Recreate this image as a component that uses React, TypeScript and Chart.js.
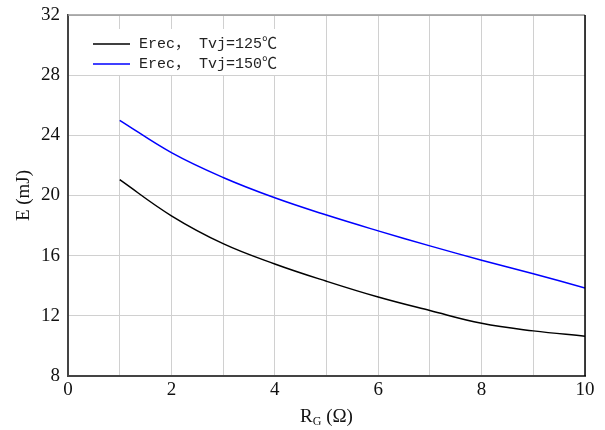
import React, { useEffect, useRef } from "react";
import { Chart, registerables } from "chart.js";
Chart.register(...registerables);

const rg = [1, 2, 3, 4, 5, 6, 7, 8, 9, 10];
const erec125 = [21.05, 18.65, 16.8, 15.45, 14.3, 13.25, 12.35, 11.5, 11.0, 10.65];
const erec150 = [25.0, 22.85, 21.2, 19.85, 18.7, 17.65, 16.65, 15.7, 14.8, 13.85];
const seriesLabels = ["Erec， Tvj=125℃", "Erec， Tvj=150℃"];
const seriesColors = ["#000000", "#0000ff"];

const frame = {
  id: "frame",
  afterDraw(chart: any) {
    const { ctx, chartArea: a } = chart;
    ctx.save();
    ctx.strokeStyle = "#999999";
    ctx.lineWidth = 1.5;
    ctx.beginPath();
    ctx.moveTo(a.left, a.top);
    ctx.lineTo(a.right, a.top);
    ctx.stroke();
    ctx.strokeStyle = "#000000";
    ctx.lineWidth = 1.5;
    ctx.beginPath();
    ctx.moveTo(a.right, a.top);
    ctx.lineTo(a.right, a.bottom);
    ctx.stroke();
    // legend
    ctx.fillStyle = "#ffffff";
    ctx.fillRect(a.left + 22, a.top + 14, 192, 46);
    ctx.font = "15px 'Liberation Mono', 'Noto Sans CJK SC', monospace";
    ctx.textBaseline = "middle";
    chart.data.datasets.forEach((ds: any, i: number) => {
      const y = a.top + 29 + i * 20;
      ctx.strokeStyle = ds.borderColor;
      ctx.lineWidth = 1.5;
      ctx.beginPath();
      ctx.moveTo(a.left + 25, y);
      ctx.lineTo(a.left + 62, y);
      ctx.stroke();
      ctx.fillStyle = "#222";
      ctx.fillText(ds.label, a.left + 71, y);
    });
    // axis titles
    ctx.fillStyle = "#111";
    const big = "19px 'Liberation Serif', serif";
    const small = "12px 'Liberation Serif', serif";
    ctx.font = big;
    ctx.textBaseline = "alphabetic";
    const cx = (a.left + a.right) / 2;
    const ty = 422;
    const wR = ctx.measureText("R").width;
    ctx.font = small;
    const wG = ctx.measureText("G").width;
    ctx.font = big;
    const wRest = ctx.measureText(" (Ω)").width;
    const x0 = cx - (wR + wG + wRest) / 2;
    ctx.textAlign = "left";
    ctx.fillText("R", x0, ty);
    ctx.font = small;
    ctx.fillText("G", x0 + wR, ty + 3);
    ctx.font = big;
    ctx.fillText(" (Ω)", x0 + wR + wG, ty);
    ctx.save();
    ctx.translate(29, (a.top + a.bottom) / 2);
    ctx.rotate(-Math.PI / 2);
    ctx.textAlign = "center";
    ctx.fillText("E (mJ)", 0, 0);
    ctx.restore();
    ctx.restore();
  },
};

export default function App() {
  const ref = useRef<HTMLCanvasElement>(null);
  useEffect(() => {
    const chart = new Chart(ref.current!, {
      type: "line",
      data: {
        datasets: [
          {
            label: seriesLabels[0],
            data: rg.map((x, i) => ({ x, y: erec125[i] })),
            borderColor: seriesColors[0],
            borderWidth: 1.5,
            pointRadius: 0,
            tension: 0.4,
          },
          {
            label: seriesLabels[1],
            data: rg.map((x, i) => ({ x, y: erec150[i] })),
            borderColor: seriesColors[1],
            borderWidth: 1.5,
            pointRadius: 0,
            tension: 0.4,
          },
        ],
      },
      options: {
        animation: false,
        responsive: false,
        layout: { padding: { left: 0, right: 20, top: 15, bottom: 0 } },
        plugins: { legend: { display: false }, tooltip: { enabled: false } },
        scales: {
          x: {
            type: "linear",
            min: 0,
            max: 10,
            ticks: {
              stepSize: 1,
              autoSkip: false,
              maxRotation: 0,
              color: "#111",
              font: { family: "'Liberation Serif', serif", size: 19 },
              padding: 3,
              callback: (v: any) => (Number(v) % 2 === 0 ? String(v) : ""),
            },
            grid: { color: "#d0d0d0", lineWidth: 1, drawTicks: false },
            border: { color: "#444", width: 2 },
            afterFit: (s: any) => {
              s.height = 54;
              s.paddingLeft = 0;
              s.paddingRight = 0;
            },
          },
          y: {
            min: 8,
            max: 32,
            ticks: {
              stepSize: 4,
              color: "#111",
              font: { family: "'Liberation Serif', serif", size: 19 },
              padding: 8,
            },
            grid: { color: "#d0d0d0", lineWidth: 1, drawTicks: false },
            border: { color: "#444", width: 2 },
            afterFit: (s: any) => {
              s.width = 68;
              s.paddingTop = 0;
              s.paddingBottom = 0;
            },
          },
        },
      },
      plugins: [frame],
    });
    return () => chart.destroy();
  }, []);
  return (
    <div style={{ position: "fixed", left: 0, top: 0, width: 605, height: 430, background: "#fff" }}>
      <canvas ref={ref} width={605} height={430} style={{ width: 605, height: 430 }} />
    </div>
  );
}
